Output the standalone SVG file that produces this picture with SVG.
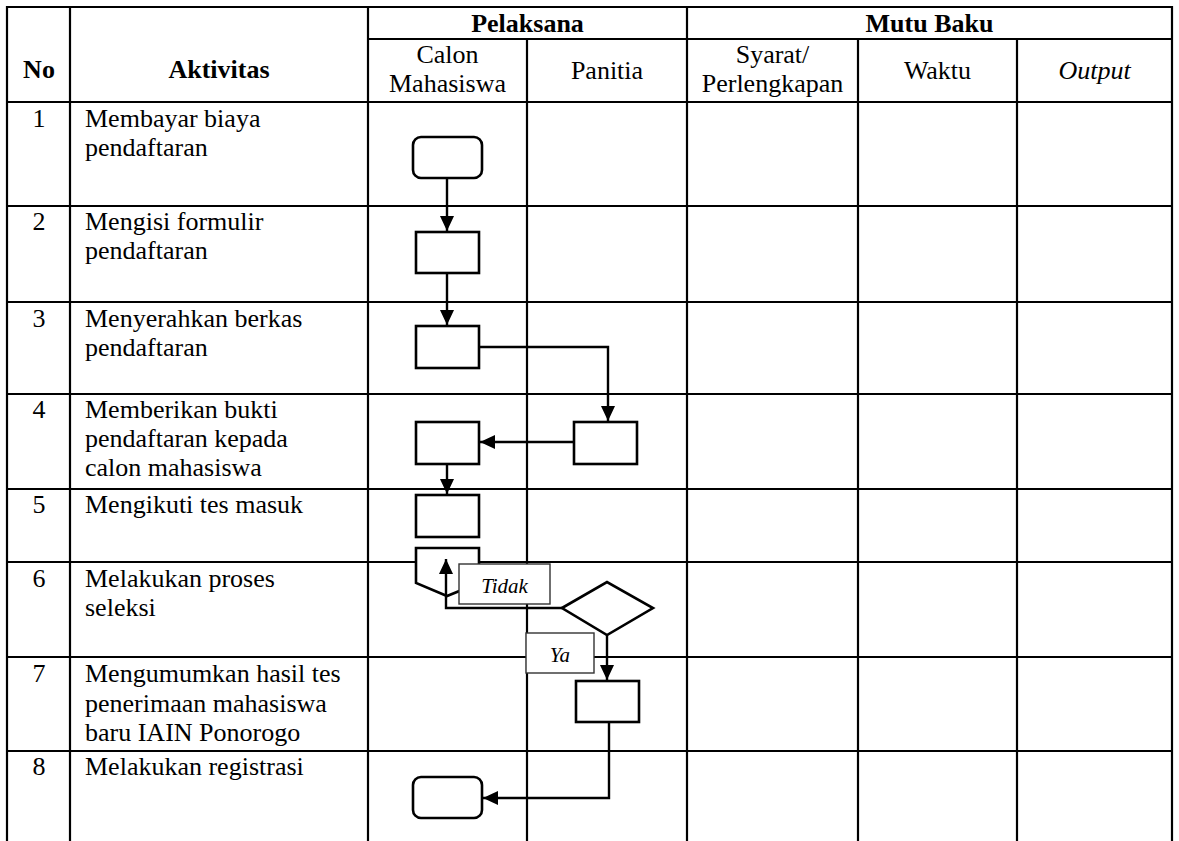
<svg xmlns="http://www.w3.org/2000/svg" width="1179" height="841" viewBox="0 0 1179 841">
<style>
.t{font-family:"Liberation Serif","Times New Roman",serif;font-size:26px;fill:#000}
.b{font-weight:bold}
.i{font-style:italic}
.c{text-anchor:middle}
.lbl{font-family:"Liberation Serif","Times New Roman",serif;font-size:21px;font-style:italic;fill:#000;text-anchor:middle}
.grid{stroke:#000;stroke-width:2.2;fill:none}
.shape{fill:#fff;stroke:#000;stroke-width:2.6}
.conn{fill:none;stroke:#000;stroke-width:2.4}
.lbox{fill:#fff;stroke:#333;stroke-width:1.4}
</style>
<defs>
<marker id="ah" viewBox="0 0 15 14" refX="15" refY="7" markerWidth="15" markerHeight="14" markerUnits="userSpaceOnUse" orient="auto">
<path d="M0,0 L15,7 L0,14 z" fill="#000"/>
</marker>
</defs>
<rect width="1179" height="841" fill="#fff"/>
<g id="table" class="grid">
<line x1="6" y1="7" x2="1173" y2="7"/>
<line x1="368" y1="39" x2="1173" y2="39"/>
<line x1="6" y1="102" x2="1173" y2="102"/>
<line x1="6" y1="206" x2="1173" y2="206"/>
<line x1="6" y1="302" x2="1173" y2="302"/>
<line x1="6" y1="394" x2="1173" y2="394"/>
<line x1="6" y1="489" x2="1173" y2="489"/>
<line x1="6" y1="562" x2="1173" y2="562"/>
<line x1="6" y1="657" x2="1173" y2="657"/>
<line x1="6" y1="751" x2="1173" y2="751"/>
<line x1="7" y1="6" x2="7" y2="841"/>
<line x1="70" y1="7" x2="70" y2="841"/>
<line x1="368" y1="7" x2="368" y2="841"/>
<line x1="527" y1="39" x2="527" y2="841"/>
<line x1="687" y1="7" x2="687" y2="841"/>
<line x1="858" y1="39" x2="858" y2="841"/>
<line x1="1017" y1="39" x2="1017" y2="841"/>
<line x1="1172" y1="6" x2="1172" y2="841"/>
</g>
<g id="header">
<text class="t b c" x="39" y="78">No</text>
<text class="t b c" x="219" y="78">Aktivitas</text>
<text class="t b c" x="527.5" y="32">Pelaksana</text>
<text class="t b c" x="929.5" y="32">Mutu Baku</text>
<text class="t c" x="447.5" y="63">Calon</text>
<text class="t c" x="447.5" y="92">Mahasiswa</text>
<text class="t c" x="607" y="79">Panitia</text>
<text class="t c" x="772.5" y="63">Syarat/</text>
<text class="t c" x="772.5" y="92">Perlengkapan</text>
<text class="t c" x="937.5" y="79">Waktu</text>
<text class="t i c" x="1094.5" y="79">Output</text>
</g>
<g id="rows">
<text class="t c" x="39" y="127">1</text>
<text class="t" x="85" y="127">Membayar biaya</text>
<text class="t" x="85" y="156">pendaftaran</text>
<text class="t c" x="39" y="230">2</text>
<text class="t" x="85" y="230">Mengisi formulir</text>
<text class="t" x="85" y="259">pendaftaran</text>
<text class="t c" x="39" y="327">3</text>
<text class="t" x="85" y="327">Menyerahkan berkas</text>
<text class="t" x="85" y="356">pendaftaran</text>
<text class="t c" x="39" y="418">4</text>
<text class="t" x="85" y="418">Memberikan bukti</text>
<text class="t" x="85" y="447">pendaftaran kepada</text>
<text class="t" x="85" y="476">calon mahasiswa</text>
<text class="t c" x="39" y="513">5</text>
<text class="t" x="85" y="513">Mengikuti tes masuk</text>
<text class="t c" x="39" y="587">6</text>
<text class="t" x="85" y="587">Melakukan proses</text>
<text class="t" x="85" y="616">seleksi</text>
<text class="t c" x="39" y="682">7</text>
<text class="t" x="85" y="682">Mengumumkan hasil tes</text>
<text class="t" x="85" y="712">penerimaan mahasiswa</text>
<text class="t" x="85" y="741">baru IAIN Ponorogo</text>
<text class="t c" x="39" y="775">8</text>
<text class="t" x="85" y="775">Melakukan registrasi</text>
</g>
<g id="connectors">
<polyline class="conn" points="447,178 447,231" marker-end="url(#ah)"/>
<polyline class="conn" points="447,273 447,325" marker-end="url(#ah)"/>
<polyline class="conn" points="479,347 608,347 608,421" marker-end="url(#ah)"/>
<polyline class="conn" points="574,442 480,442" marker-end="url(#ah)"/>
<polyline class="conn" points="447,464 447,494" marker-end="url(#ah)"/>
<polyline class="conn" points="607,635 607,680" marker-end="url(#ah)"/>
<polyline class="conn" points="609,722 609,798 483,798" marker-end="url(#ah)"/>
</g>
<g id="n1"><rect class="shape" x="413" y="137" width="69" height="41" rx="8"/></g>
<g id="n2"><rect class="shape" x="416" y="232" width="63" height="41"/></g>
<g id="n3"><rect class="shape" x="416" y="326" width="63" height="42"/></g>
<g id="n4p"><rect class="shape" x="574" y="422" width="63" height="42"/></g>
<g id="n4c"><rect class="shape" x="416" y="422" width="63" height="42"/></g>
<g id="n5"><rect class="shape" x="416" y="495" width="63" height="42"/></g>
<g id="n6c"><polygon class="shape" points="416,548 479,548 479,583 447,596 416,583"/></g>
<g id="n6d"><polygon class="shape" points="562,608 607,582 653,608 607,635"/></g>
<g id="connectors2">
<polyline class="conn" points="562,608 446,608 446,559" marker-end="url(#ah)"/>
</g>
<g id="lblTidak"><rect class="lbox" x="459" y="564" width="91" height="40"/><text class="lbl" x="504.5" y="593">Tidak</text></g>
<g id="lblYa"><rect class="lbox" x="526" y="633" width="68" height="40"/><text class="lbl" x="560" y="662">Ya</text></g>
<g id="n7"><rect class="shape" x="576" y="681" width="63" height="41"/></g>
<g id="n8"><rect class="shape" x="413" y="777" width="69" height="41" rx="8"/></g>
</svg>
